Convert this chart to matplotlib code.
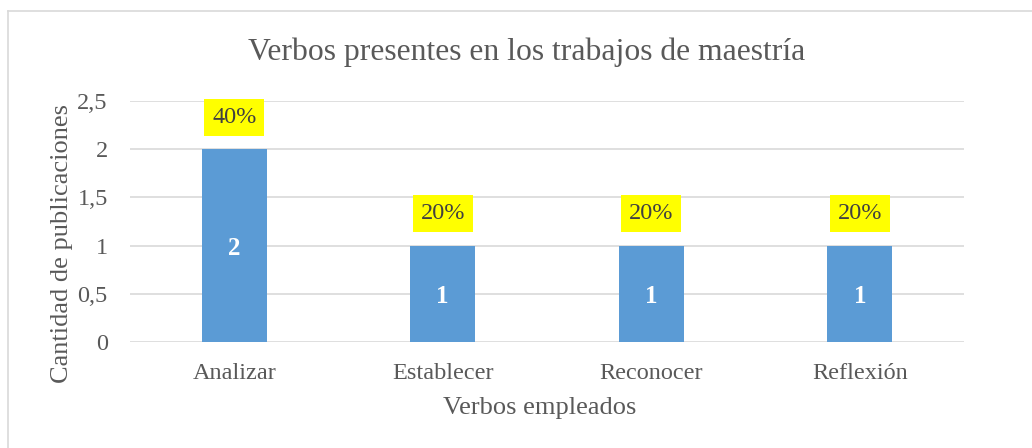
import matplotlib.pyplot as plt
from matplotlib.lines import Line2D

verbos = ['Analizar', 'Establecer', 'Reconocer', 'Reflexión']
cantidad = [2, 1, 1, 1]
porcentaje = ['40%', '20%', '20%', '20%']
yticks = [0, 0.5, 1, 1.5, 2, 2.5]
ytick_labels = ['0', '0,5', '1', '1,5', '2', '2,5']

plt.rcParams['font.family'] = ['Liberation Serif', 'DejaVu Serif']
gray = '#595959'

fig = plt.figure(figsize=(10.32, 4.48), dpi=100)
ax = fig.add_axes([130/1032, 106/448, 834/1032, 241/448])

ind = list(range(len(verbos)))
ax.bar(ind, cantidad, 0.31, color='#5B9BD5', zorder=3)
ax.set_xlim(-0.5, len(verbos) - 0.5)
ax.set_ylim(0, 2.5)
ax.set_yticks(yticks)
ax.set_yticklabels(ytick_labels)
ax.set_xticks(ind)
ax.set_xticklabels(verbos)
ax.tick_params(length=0, labelsize=17.5, labelcolor=gray)
ax.tick_params(axis='y', pad=16)
ax.tick_params(axis='x', pad=15)
ax.grid(axis='y', color='#D9D9D9', linewidth=1.2, zorder=0)
for s in ax.spines.values():
    s.set_visible(False)

for i, v in enumerate(cantidad):
    ax.annotate(str(v), (i, v / 2), xytext=(0, -2), textcoords='offset points',
                ha='center', va='center', color='white',
                fontsize=18, fontweight='bold', zorder=4)
    ax.annotate(porcentaje[i], (i, v), xytext=(0, 23), textcoords='offset points',
                ha='center', va='center', fontsize=17.5, color='#404040', zorder=4,
                bbox=dict(boxstyle='square,pad=0.32', facecolor='#FFFF00', edgecolor='none'))

ax.set_xlabel('Verbos empleados', fontsize=19, color=gray, va='center')
ax.set_ylabel('Cantidad de publicaciones', fontsize=19, color=gray, va='center')
ax.xaxis.set_label_coords(0.4916, -0.274)
ax.yaxis.set_label_coords(-0.0815, 0.41)
fig.text(527/1032, 1 - 52/448, 'Verbos presentes en los trabajos de maestría',
         ha='center', va='center', fontsize=22.8, color=gray)

# chart border (only top and left edges visible in the crop)
fig.add_artist(Line2D([8/1032, 8/1032], [0, 1 - 11/448], transform=fig.transFigure,
                      color='#D9D9D9', linewidth=1.2))
fig.add_artist(Line2D([8/1032, 1], [1 - 11/448, 1 - 11/448], transform=fig.transFigure,
                      color='#D9D9D9', linewidth=1.2))

plt.savefig('out.png', dpi=100)
